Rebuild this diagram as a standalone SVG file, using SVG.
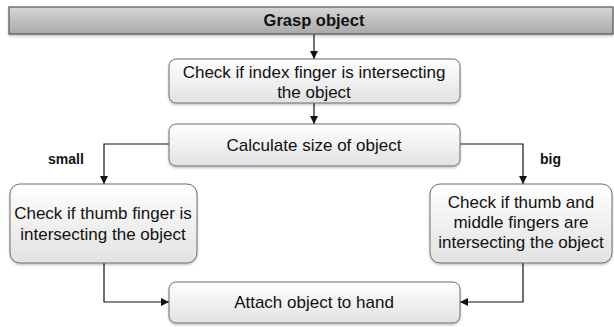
<svg xmlns="http://www.w3.org/2000/svg" width="614" height="327" viewBox="0 0 614 327">
<style>
.box{fill:url(#bg);stroke:#6e6e6e;stroke-width:1;filter:url(#sh)}
.t{font-family:"Liberation Sans",Arial,sans-serif;font-size:17px;fill:#111;text-anchor:middle}
.b{font-family:"Liberation Sans",Arial,sans-serif;font-size:14px;font-weight:bold;fill:#111}
.h{font-size:16.5px;text-anchor:middle}
.c{fill:none;stroke:#111;stroke-width:1.2;marker-end:url(#ah)}
</style>
<defs>
<linearGradient id="bg" x1="0" y1="0" x2="0" y2="1"><stop offset="0" stop-color="#ffffff"/><stop offset="1" stop-color="#e2e2e2"/></linearGradient>
<linearGradient id="tg" x1="0" y1="0" x2="0" y2="1"><stop offset="0" stop-color="#d6d6d6"/><stop offset="1" stop-color="#a9a9a9"/></linearGradient>
<filter id="sh" x="-10%" y="-10%" width="120%" height="130%"><feDropShadow dx="0" dy="1.5" stdDeviation="1" flood-color="#000" flood-opacity="0.25"/></filter>
<marker id="ah" viewBox="0 0 10 10" refX="10" refY="5" markerWidth="8" markerHeight="8" markerUnits="userSpaceOnUse" orient="auto"><path d="M0,0 L10,5 L0,10 z" fill="#111"/></marker>
</defs>
<g id="connectors">
<path class="c" d="M314,34 V59"/>
<path class="c" d="M314,103 V124"/>
<path class="c" d="M169,144 H104 V184"/>
<path class="c" d="M460,144 H523 V184"/>
<path class="c" d="M104,263 V302 H169"/>
<path class="c" d="M523,263 V302 H460"/>
</g>
<g id="grasp">
<rect x="9" y="7" width="604" height="27" fill="url(#tg)" stroke="#555" stroke-width="1.2" filter="url(#sh)"/>
<text class="b h" x="314" y="26">Grasp object</text>
</g>
<g id="index">
<rect class="box" x="169" y="59" width="291" height="44" rx="7"/>
<text class="t" x="314" y="78">Check if index finger is intersecting</text>
<text class="t" x="314" y="98">the object</text>
</g>
<g id="calc">
<rect class="box" x="169" y="124" width="291" height="42" rx="7"/>
<text class="t" x="314" y="151">Calculate size of object</text>
</g>
<g id="thumb">
<rect class="box" x="10" y="184" width="187" height="79" rx="10"/>
<text class="t" x="103" y="219">Check if thumb finger is</text>
<text class="t" x="103" y="240">intersecting the object</text>
</g>
<g id="middle">
<rect class="box" x="430" y="184" width="182" height="79" rx="10"/>
<text class="t" x="521" y="208">Check if thumb and</text>
<text class="t" x="521" y="228">middle fingers are</text>
<text class="t" x="521" y="248">intersecting the object</text>
</g>
<g id="attach">
<rect class="box" x="169" y="282" width="291" height="41" rx="7"/>
<text class="t" x="314" y="308">Attach object to hand</text>
</g>
<g id="labels">
<text class="b" x="48" y="164">small</text>
<text class="b" x="540" y="164">big</text>
</g>
</svg>
